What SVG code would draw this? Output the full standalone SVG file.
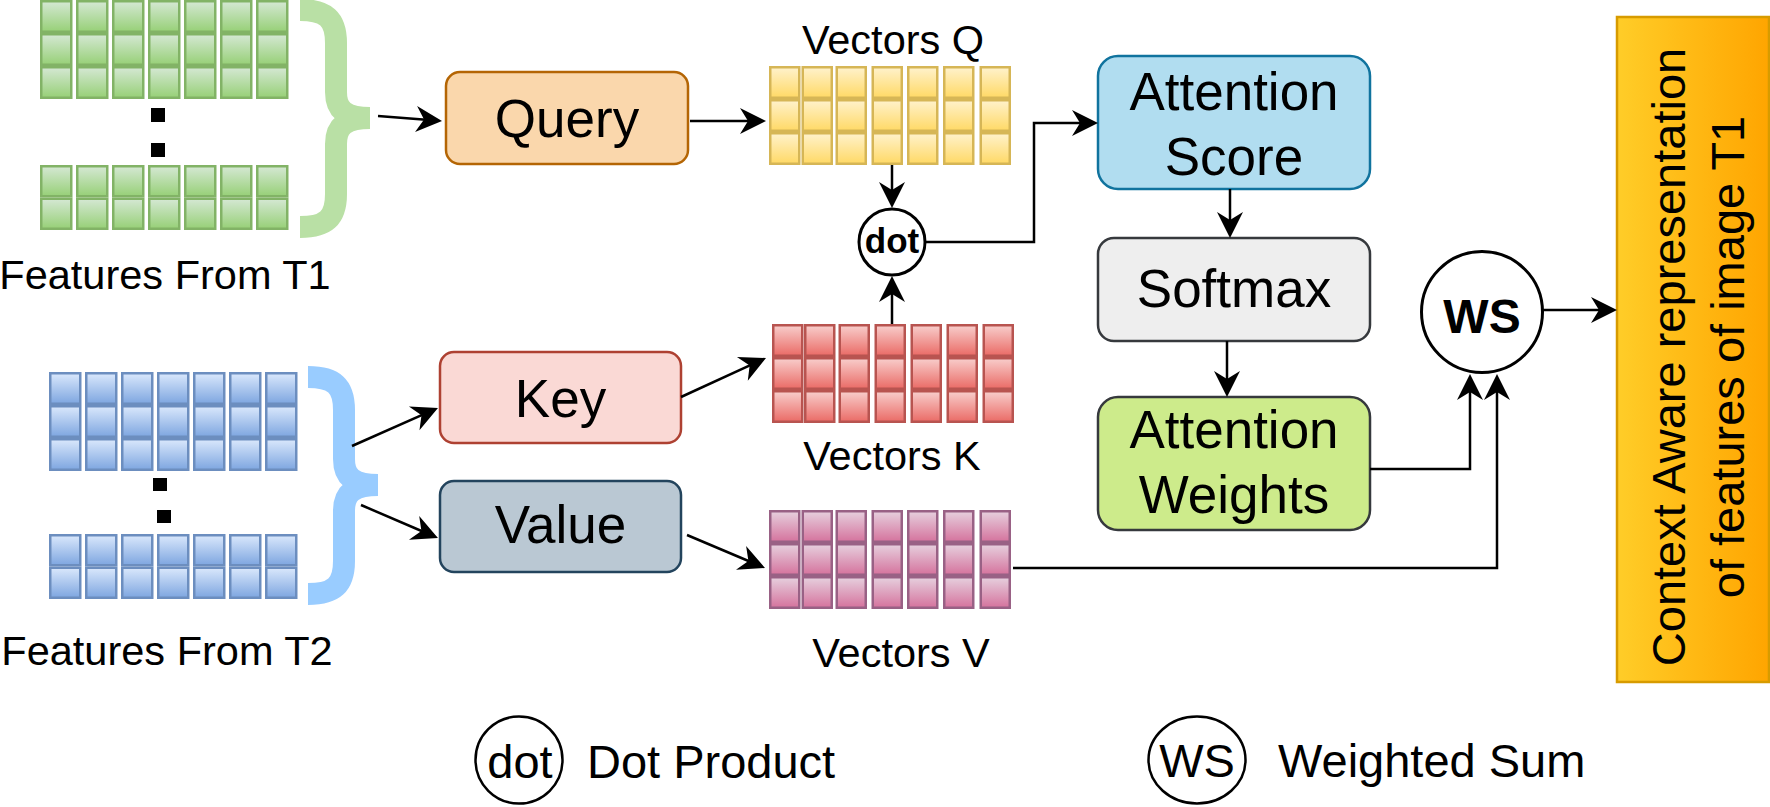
<svg xmlns="http://www.w3.org/2000/svg" xmlns:xlink="http://www.w3.org/1999/xlink" width="1770" height="807" viewBox="0 0 1770 807">
<defs>
  <linearGradient id="gG" x1="0" y1="0" x2="0" y2="1"><stop offset="0" stop-color="#d5e8d4"/><stop offset="1" stop-color="#97d077"/></linearGradient>
  <linearGradient id="gB" x1="0" y1="0" x2="0" y2="1"><stop offset="0" stop-color="#dae8fc"/><stop offset="1" stop-color="#7ea6e0"/></linearGradient>
  <linearGradient id="gY" x1="0" y1="0" x2="0" y2="1"><stop offset="0" stop-color="#fff2cc"/><stop offset="1" stop-color="#ffd966"/></linearGradient>
  <linearGradient id="gR" x1="0" y1="0" x2="0" y2="1"><stop offset="0" stop-color="#f8cecc"/><stop offset="1" stop-color="#ea6b66"/></linearGradient>
  <linearGradient id="gP" x1="0" y1="0" x2="0" y2="1"><stop offset="0" stop-color="#e6d0de"/><stop offset="1" stop-color="#d5739d"/></linearGradient>
  <linearGradient id="gO" x1="0" y1="0" x2="1" y2="0"><stop offset="0" stop-color="#ffcd28"/><stop offset="1" stop-color="#ffa500"/></linearGradient>
  <marker id="ah" viewBox="-27 -14 28 28" markerWidth="28" markerHeight="28" refX="-16" refY="0" orient="auto" markerUnits="userSpaceOnUse">
    <path d="M0,0 L-26,-13 L-18,0 L-26,13 Z" fill="#000"/>
  </marker>
  <g id="c3" stroke-width="2.5">
    <rect x="1.25" y="1.25" width="30" height="30.5"/>
    <rect x="1.25" y="34.25" width="30" height="30.5"/>
    <rect x="1.25" y="67.25" width="30" height="30.5"/>
  </g>
  <g id="c2" stroke-width="2.5">
    <rect x="1.25" y="1.25" width="30" height="30"/>
    <rect x="1.25" y="33.75" width="30" height="30"/>
  </g>
  <g id="q3" stroke-width="2.5">
    <rect x="1.25" y="1.25" width="29" height="30.5"/>
    <rect x="1.25" y="34.25" width="29" height="30.5"/>
    <rect x="1.25" y="67.25" width="29" height="30.5"/>
  </g>
  <path id="brace" d="M300,10 C326,10 336,19 336,43 L336,92 C336,110 345,118 370,118 C345,118 336,126 336,144 L336,194 C336,218 326,227 300,227"/>
</defs>
<style>
  text{font-family:"Liberation Sans",Arial,Helvetica,sans-serif;fill:#000}
  .gG{fill:url(#gG);stroke:#82b366}
  .gB{fill:url(#gB);stroke:#6c8ebf}
  .gY{fill:url(#gY);stroke:#d6b656}
  .gR{fill:url(#gR);stroke:#b85450}
  .gP{fill:url(#gP);stroke:#996185}
  .box{stroke-width:2.5}
  .big{font-size:53px}
  .lbl{font-size:41.5px}
  .leg{font-size:47px}
  .conn{fill:none;stroke:#000;stroke-width:2.5}
  .arr{marker-end:url(#ah)}
  .dots{fill:#000}
</style>
<rect x="0" y="0" width="1770" height="807" fill="#ffffff"/>

<!-- Features from T1 -->
<g id="featuresT1">
  <g class="gG">
    <use xlink:href="#c3" x="40" y="0"/><use xlink:href="#c3" x="76" y="0"/><use xlink:href="#c3" x="112" y="0"/><use xlink:href="#c3" x="148" y="0"/><use xlink:href="#c3" x="184" y="0"/><use xlink:href="#c3" x="220" y="0"/><use xlink:href="#c3" x="256" y="0"/>
    <use xlink:href="#c2" x="40" y="165"/><use xlink:href="#c2" x="76" y="165"/><use xlink:href="#c2" x="112" y="165"/><use xlink:href="#c2" x="148" y="165"/><use xlink:href="#c2" x="184" y="165"/><use xlink:href="#c2" x="220" y="165"/><use xlink:href="#c2" x="256" y="165"/>
  </g>
  <rect class="dots" x="151" y="108" width="14" height="14"/>
  <rect class="dots" x="151" y="143" width="14" height="14"/>
  <use xlink:href="#brace" fill="none" stroke="#b9e0a5" stroke-width="22"/>
  <text class="lbl" x="165" y="289" text-anchor="middle">Features From T1</text>
</g>

<!-- Features from T2 -->
<g id="featuresT2">
  <g class="gB">
    <use xlink:href="#c3" x="49" y="372"/><use xlink:href="#c3" x="85" y="372"/><use xlink:href="#c3" x="121" y="372"/><use xlink:href="#c3" x="157" y="372"/><use xlink:href="#c3" x="193" y="372"/><use xlink:href="#c3" x="229" y="372"/><use xlink:href="#c3" x="265" y="372"/>
    <use xlink:href="#c2" x="49" y="534"/><use xlink:href="#c2" x="85" y="534"/><use xlink:href="#c2" x="121" y="534"/><use xlink:href="#c2" x="157" y="534"/><use xlink:href="#c2" x="193" y="534"/><use xlink:href="#c2" x="229" y="534"/><use xlink:href="#c2" x="265" y="534"/>
  </g>
  <rect class="dots" x="153" y="478" width="14" height="13"/>
  <rect class="dots" x="157" y="510" width="14" height="13"/>
  <use xlink:href="#brace" transform="translate(8,367)" fill="none" stroke="#99ccff" stroke-width="22"/>
  <text class="lbl" x="167" y="665" text-anchor="middle">Features From T2</text>
</g>

<!-- Query / Key / Value -->
<g id="query">
  <rect class="box" x="446" y="72" width="242" height="92" rx="14" fill="#fad7ac" stroke="#b46504"/>
  <text class="big" x="567" y="137" text-anchor="middle">Query</text>
</g>
<g id="key">
  <rect class="box" x="440" y="352" width="241" height="91" rx="14" fill="#fad9d5" stroke="#ae4132"/>
  <text class="big" x="560.5" y="417" text-anchor="middle">Key</text>
</g>
<g id="value">
  <rect class="box" x="440" y="481" width="241" height="91" rx="14" fill="#bac8d3" stroke="#23445d"/>
  <text class="big" x="560.5" y="543" text-anchor="middle">Value</text>
</g>

<!-- Vectors -->
<g id="vectorsQ">
  <g class="gY">
    <use xlink:href="#q3" x="769" y="66"/><use xlink:href="#q3" x="801.5" y="66"/><use xlink:href="#q3" x="835.5" y="66"/><use xlink:href="#q3" x="871.5" y="66"/><use xlink:href="#q3" x="907" y="66"/><use xlink:href="#q3" x="943" y="66"/><use xlink:href="#q3" x="979.5" y="66"/>
  </g>
  <text class="lbl" x="893" y="54" text-anchor="middle">Vectors Q</text>
</g>
<g id="vectorsK">
  <g class="gR">
    <use xlink:href="#q3" x="772" y="324"/><use xlink:href="#q3" x="804" y="324"/><use xlink:href="#q3" x="838.5" y="324"/><use xlink:href="#q3" x="874.5" y="324"/><use xlink:href="#q3" x="910.5" y="324"/><use xlink:href="#q3" x="946.5" y="324"/><use xlink:href="#q3" x="982.5" y="324"/>
  </g>
  <text class="lbl" x="892" y="470" text-anchor="middle">Vectors K</text>
</g>
<g id="vectorsV">
  <g class="gP">
    <use xlink:href="#q3" x="769" y="510"/><use xlink:href="#q3" x="801.5" y="510"/><use xlink:href="#q3" x="835.5" y="510"/><use xlink:href="#q3" x="871.5" y="510"/><use xlink:href="#q3" x="907" y="510"/><use xlink:href="#q3" x="943" y="510"/><use xlink:href="#q3" x="979.5" y="510"/>
  </g>
  <text class="lbl" x="901" y="667" text-anchor="middle">Vectors V</text>
</g>

<!-- dot product -->
<g id="dot">
  <circle cx="892" cy="242" r="33" fill="#ffffff" stroke="#000" stroke-width="3"/>
  <text x="892" y="253" text-anchor="middle" font-size="35" font-weight="bold">dot</text>
</g>

<!-- Attention chain -->
<g id="attentionScore">
  <rect class="box" x="1098" y="56" width="272" height="133" rx="20" fill="#b1ddf0" stroke="#10739e"/>
  <text class="big" x="1234" y="110" text-anchor="middle">Attention</text>
  <text class="big" x="1234" y="175" text-anchor="middle">Score</text>
</g>
<g id="softmax">
  <rect class="box" x="1098" y="238" width="272" height="103" rx="16" fill="#eeeeee" stroke="#36393d"/>
  <text class="big" x="1234" y="307" text-anchor="middle">Softmax</text>
</g>
<g id="attentionWeights">
  <rect class="box" x="1098" y="397" width="272" height="133" rx="20" fill="#cdeb8b" stroke="#36393d"/>
  <text class="big" x="1234" y="448" text-anchor="middle">Attention</text>
  <text class="big" x="1234" y="513" text-anchor="middle">Weights</text>
</g>

<!-- Weighted sum -->
<g id="ws">
  <circle cx="1482" cy="312" r="60.5" fill="#ffffff" stroke="#000" stroke-width="3"/>
  <text x="1482" y="333" text-anchor="middle" font-size="48" font-weight="bold">WS</text>
</g>

<!-- Output -->
<g id="context">
  <rect x="1617" y="17" width="152" height="665" fill="url(#gO)" stroke="#d79b00" stroke-width="2.5"/>
  <text font-size="47" x="1685" y="357" text-anchor="middle" transform="rotate(-90 1685 357)">Context Aware representation</text>
  <text font-size="47" x="1744" y="357" text-anchor="middle" transform="rotate(-90 1744 357)">of features of image T1</text>
</g>

<!-- Connectors -->
<g id="connectors">
  <path class="conn arr" d="M378,116 L426.05,119.75"/>
  <path class="conn arr" d="M690,121 L750,121"/>
  <path class="conn arr" d="M892,165 L892,192"/>
  <path class="conn arr" d="M892,324 L892,292"/>
  <path class="conn arr" d="M925,242 H1034 V123 H1082"/>
  <path class="conn arr" d="M352,446 L423.34,414.4"/>
  <path class="conn arr" d="M361,505 L423.26,531.77"/>
  <path class="conn arr" d="M681,397 L751.46,364.67"/>
  <path class="conn arr" d="M687,535 L750.26,561.77"/>
  <path class="conn arr" d="M1230,189 L1230,222"/>
  <path class="conn arr" d="M1227,341 L1227,381"/>
  <path class="conn arr" d="M1370,469 H1470 V390"/>
  <path class="conn arr" d="M1013,568 H1497 V390"/>
  <path class="conn arr" d="M1543,310 L1601,310"/>
</g>

<!-- Legend -->
<g id="legendDot">
  <circle cx="519" cy="760" r="43.5" fill="#ffffff" stroke="#000" stroke-width="2.5"/>
  <text class="leg" x="520" y="778" text-anchor="middle">dot</text>
  <text class="leg" x="587" y="778">Dot Product</text>
</g>
<g id="legendWS">
  <ellipse cx="1197" cy="760" rx="48.5" ry="43.5" fill="#ffffff" stroke="#000" stroke-width="2.5"/>
  <text x="1197" y="777" text-anchor="middle" font-size="47">WS</text>
  <text class="leg" x="1278" y="777">Weighted Sum</text>
</g>
</svg>
